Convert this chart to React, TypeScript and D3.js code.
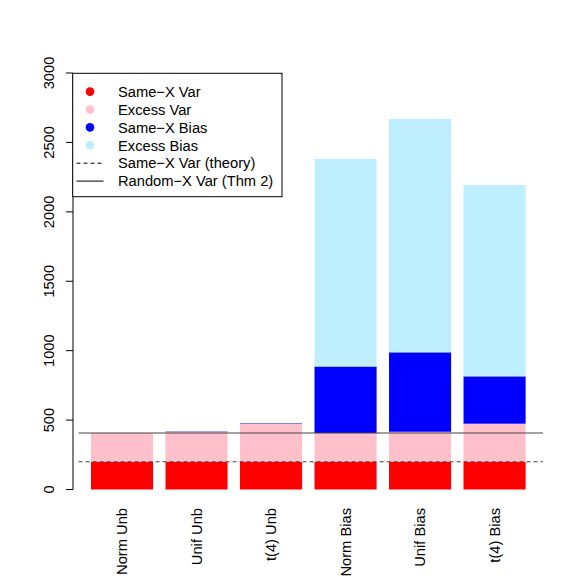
import React from "react";
import * as d3 from "d3";

const categories = ["Norm Unb", "Unif Unb", "t(4) Unb", "Norm Bias", "Unif Bias", "t(4) Bias"];
const sameXVar = [200, 200, 200, 200, 200, 200];
const excessVar = [207, 214, 272, 207, 216, 274];
const sameXBias = [0, 3, 4, 479, 572, 341];
const excessBias = [0, 1, 1, 1495, 1681, 1378];
const sameXVarTheory = 200;
const randomXVarThm2 = 407;
const yTicks = [0, 500, 1000, 1500, 2000, 2500, 3000];

const seriesKeys = ["sameXVar", "excessVar", "sameXBias", "excessBias"];
const seriesColors = ["#FF0000", "#FFC0CB", "#0000FF", "#BFEFFF"];
const legendLabels = ["Same\u2212X Var", "Excess Var", "Same\u2212X Bias", "Excess Bias"];

const FONT = "'Liberation Sans', Arial, Helvetica, sans-serif";
const FS = 14.7;

export default function App() {
  const W = 581, H = 581;
  const y = d3.scaleLinear().domain([0, 3000]).range([489.5, 73]);
  const xU = d3.scaleLinear().domain([-0.08, 7.48]).range([73.6, 543.0]);
  const x = d3
    .scaleBand<string>()
    .domain(categories)
    .range([xU(0.1), xU(7.3)])
    .paddingInner(1 / 6)
    .paddingOuter(1 / 12);

  const table = categories.map((c, i) => ({
    cat: c,
    sameXVar: sameXVar[i],
    excessVar: excessVar[i],
    sameXBias: sameXBias[i],
    excessBias: excessBias[i],
  }));
  const stacked = d3.stack<any>().keys(seriesKeys)(table);

  const axisX = 73;
  const legendRows = [
    { type: "pt", label: legendLabels[0], color: seriesColors[0] },
    { type: "pt", label: legendLabels[1], color: seriesColors[1] },
    { type: "pt", label: legendLabels[2], color: seriesColors[2] },
    { type: "pt", label: legendLabels[3], color: seriesColors[3] },
    { type: "dash", label: "Same\u2212X Var (theory)", color: "#333" },
    { type: "solid", label: "Random\u2212X Var (Thm 2)", color: "#333" },
  ];

  return (
    <svg width={W} height={H} style={{ position: "absolute", left: 0, top: 0, background: "#fff" }} fontFamily={FONT}>
      <rect x={0} y={0} width={W} height={H} fill="#fff" />
      {stacked.map((s, si) => (
        <g key={si} fill={seriesColors[si]}>
          {s.map((d, i) => {
            const h = y(d[0]) - y(d[1]);
            if (h <= 0) return null;
            return (
              <rect
                key={i}
                x={x(categories[i])}
                y={y(d[1])}
                width={x.bandwidth()}
                height={h}
              />
            );
          })}
        </g>
      ))}
      {/* reference lines */}
      <line x1={xU(0)} x2={xU(7.48)} y1={y(sameXVarTheory)} y2={y(sameXVarTheory)} stroke="#444" strokeWidth={1.2} strokeDasharray="4,3" />
      <line x1={xU(0)} x2={xU(7.48)} y1={y(randomXVarThm2)} y2={y(randomXVarThm2)} stroke="#444" strokeWidth={1.2} />

      {/* y axis */}
      <line x1={axisX} x2={axisX} y1={y(0)} y2={y(3000)} stroke="#000" />
      {yTicks.map((t) => (
        <g key={t}>
          <line x1={axisX - 7} x2={axisX} y1={y(t)} y2={y(t)} stroke="#000" />
          <text
            transform={`translate(53.5,${y(t)}) rotate(-90)`}
            textAnchor="middle"
            fontSize={FS}
            fill="#000"
          >
            {t}
          </text>
        </g>
      ))}

      {/* x labels */}
      {categories.map((c) => (
        <text
          key={c}
          transform={`translate(${(x(c) as number) + x.bandwidth() / 2 + 5},508) rotate(-90)`}
          textAnchor="end"
          fontSize={FS}
          fill="#000"
        >
          {c}
        </text>
      ))}

      {/* legend */}
      <rect x={72.7} y={73.3} width={209.3} height={123.4} fill="#fff" stroke="#000" />
      {legendRows.map((r, i) => {
        const cy = 91.6 + i * 17.9;
        return (
          <g key={i}>
            {r.type === "pt" && <circle cx={90} cy={cy} r={4.3} fill={r.color} />}
            {r.type === "dash" && (
              <line x1={76.5} x2={103.5} y1={cy} y2={cy} stroke="#000" strokeDasharray="4,3" />
            )}
            {r.type === "solid" && <line x1={76.5} x2={103.5} y1={cy} y2={cy} stroke="#000" />}
            <text x={118} y={cy + 5.2} fontSize={FS} fill="#000">
              {r.label}
            </text>
          </g>
        );
      })}
    </svg>
  );
}
